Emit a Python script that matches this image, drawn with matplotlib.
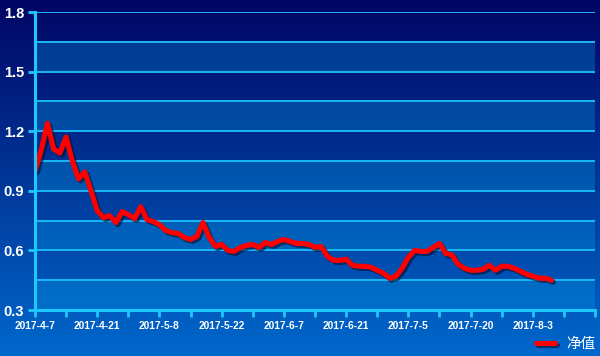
import numpy as np
import matplotlib
matplotlib.use("Agg")
import matplotlib.pyplot as plt
import matplotlib.patheffects as pe

plt.rcParams['font.family'] = ['Liberation Sans', 'Noto Sans CJK SC', 'DejaVu Sans']

# net value per trading day, starting 2017-4-7
net_value = [1.00, 1.105, 1.24, 1.11, 1.09, 1.17, 1.05, 0.96, 0.995, 0.90,
             0.80, 0.765, 0.775, 0.74, 0.795, 0.78, 0.76, 0.82, 0.755, 0.745,
             0.73, 0.70, 0.69, 0.685, 0.665, 0.655, 0.67, 0.74, 0.665, 0.62,
             0.63, 0.60, 0.595, 0.615, 0.625, 0.63, 0.615, 0.64, 0.63, 0.645,
             0.655, 0.645, 0.635, 0.635, 0.63, 0.615, 0.62, 0.57, 0.55, 0.55,
             0.555, 0.525, 0.52, 0.52, 0.515, 0.50, 0.485, 0.46, 0.47, 0.51,
             0.565, 0.60, 0.595, 0.595, 0.615, 0.635, 0.585, 0.577, 0.53, 0.51,
             0.50, 0.50, 0.505, 0.525, 0.50, 0.52, 0.52, 0.51, 0.495, 0.48,
             0.47, 0.46, 0.46, 0.45]
date_labels = ['2017-4-7', '2017-4-21', '2017-5-8', '2017-5-22', '2017-6-7',
               '2017-6-21', '2017-7-5', '2017-7-20', '2017-8-3']
y_ticks = [0.3, 0.6, 0.9, 1.2, 1.5, 1.8]
n_days = 90

axis_col = '#1ec8ff'
grid_col = '#18b8f4'

fig = plt.figure(figsize=(6, 3.56), dpi=100)

# background gradient
bg = fig.add_axes([0, 0, 1, 1], zorder=0)
top = np.array([0, 5, 100]) / 255.
bot = np.array([0, 104, 204]) / 255.
t = np.linspace(0, 1, 256)[:, None]
grad = top[None, :] * (1 - t) + bot[None, :] * t
bg.imshow(grad[:, None, :].repeat(2, axis=1), aspect='auto', extent=[0, 1, 0, 1])
bg.axis('off')

ax = fig.add_axes([35/600, 46/356, 560/600, 298/356], zorder=1)
ax.patch.set_alpha(0)
ax.set_xlim(0, n_days)
ax.set_ylim(0.3, 1.8)

# alternating bands + grid lines
levels = np.arange(0.3, 1.81, 0.15)
for i in range(len(levels) - 1):
    if i % 2 == 0:
        ax.axhspan(levels[i], levels[i+1], color=(0, 160/255., 230/255.), alpha=0.3, lw=0, zorder=1)
for lv in levels[1:]:
    ax.axhline(lv, color=grid_col, lw=1.4, zorder=2)

x = np.arange(len(net_value))
ax.plot(x, net_value, color='#ff0000', lw=3.7, solid_joinstyle='round', solid_capstyle='round',
        zorder=5, label='净值',
        path_effects=[pe.SimpleLineShadow(offset=(1.5, -1.5), shadow_color='#001030', alpha=0.6),
                      pe.Normal()])

for s in ['top', 'right']:
    ax.spines[s].set_visible(False)
for s in ['left', 'bottom']:
    ax.spines[s].set_color(axis_col)
    ax.spines[s].set_linewidth(2.2)
    ax.spines[s].set_zorder(6)

ax.set_yticks(y_ticks)
ax.set_yticklabels([f'{v:.1f}' for v in y_ticks])
ax.set_xticks(np.arange(0, n_days + 1, 5))
ax.set_xticklabels([date_labels[i // 2] if i % 2 == 0 and i // 2 < len(date_labels) else ''
                    for i in range(n_days // 5 + 1)])
ax.tick_params(axis='y', colors=axis_col, length=5, width=2, labelcolor='white',
               labelsize=10.5, pad=3)
ax.tick_params(axis='x', colors=axis_col, length=5, width=2, labelcolor='white',
               labelsize=7.4, pad=3)
for lab in ax.get_yticklabels() + ax.get_xticklabels():
    lab.set_fontweight('bold')

leg = fig.legend(loc='center right', bbox_to_anchor=(0.995, 0.034), frameon=False,
                 fontsize=10.5, handlelength=1.3, handletextpad=0.8, borderaxespad=0,
                 borderpad=0.1)
for txt in leg.get_texts():
    txt.set_color('white')
    txt.set_family(['Noto Sans CJK SC', 'DejaVu Sans'])

fig.savefig('out.png', dpi=100)
